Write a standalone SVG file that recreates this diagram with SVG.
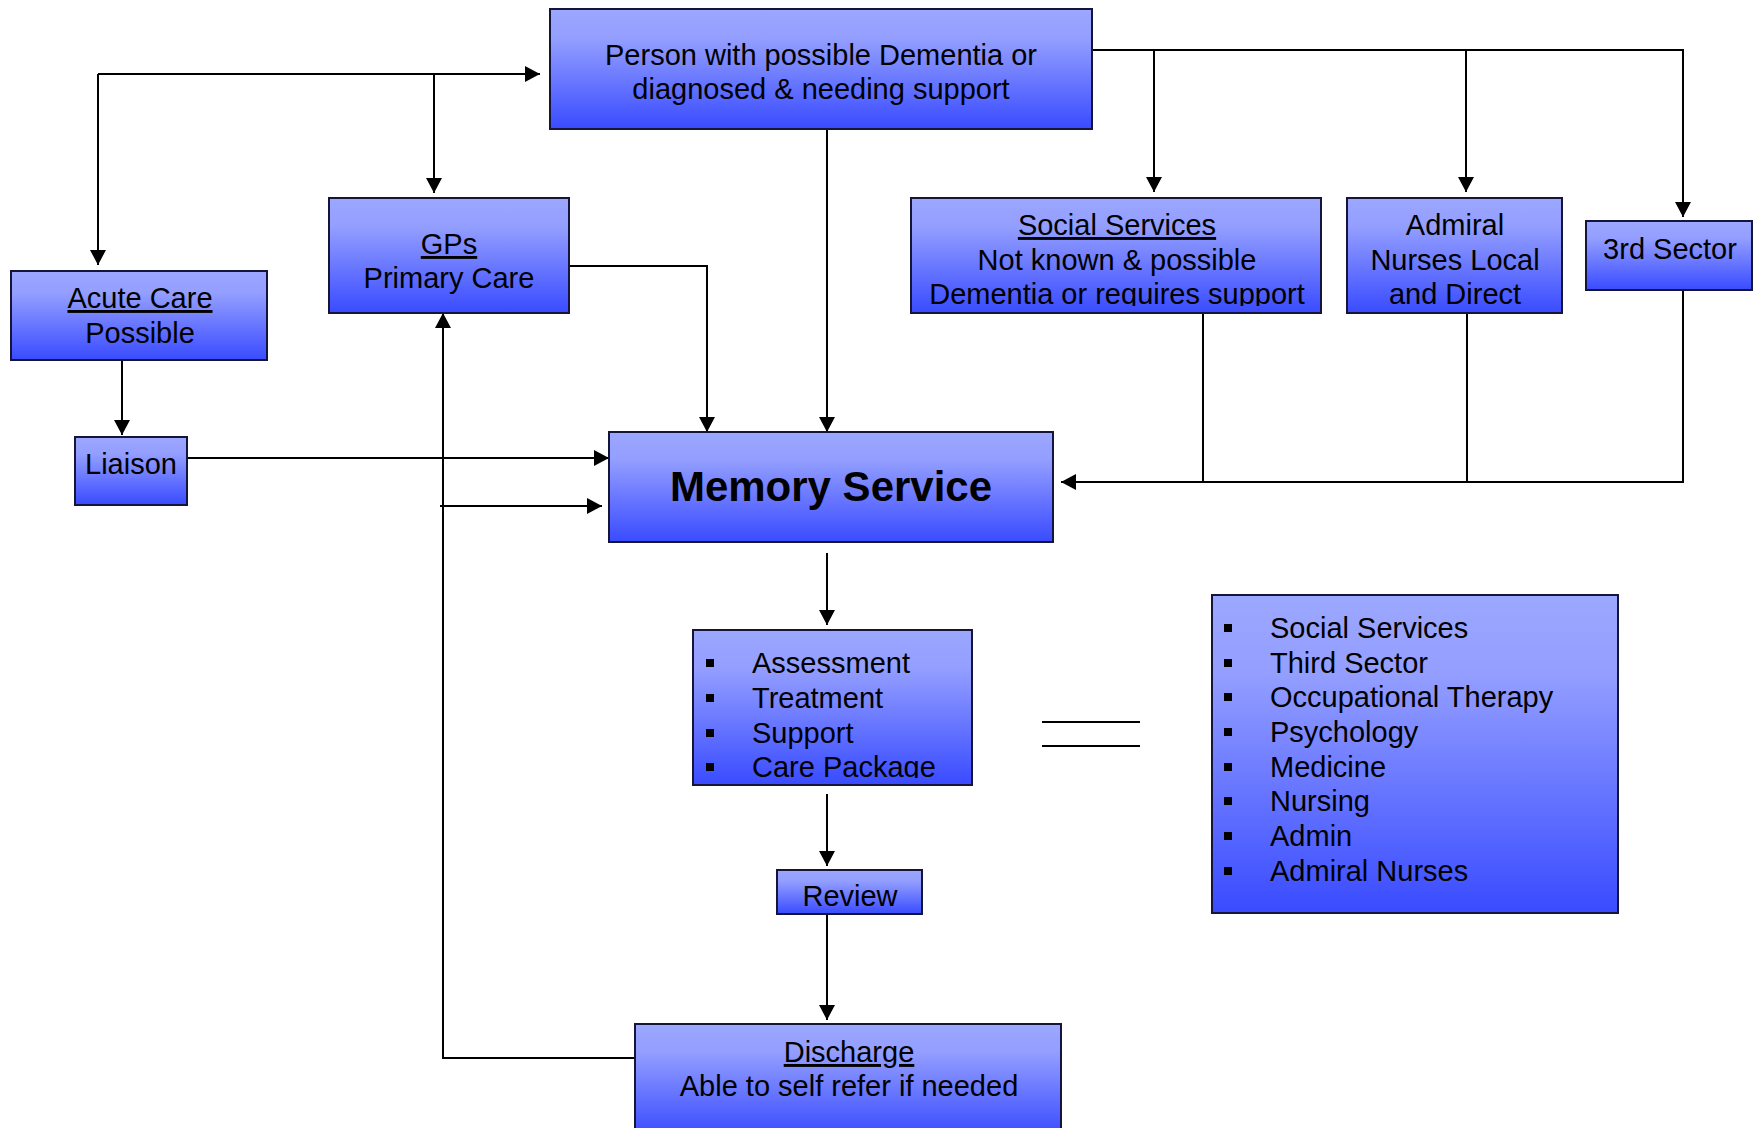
<svg xmlns="http://www.w3.org/2000/svg" width="1753" height="1128" viewBox="0 0 1753 1128">
<defs>
<linearGradient id="g" x1="0" y1="0" x2="0" y2="1">
<stop offset="0" stop-color="#9ca7ff"/>
<stop offset="0.25" stop-color="#939eff"/>
<stop offset="1" stop-color="#394bff"/>
</linearGradient>
<marker id="ah" markerUnits="userSpaceOnUse" markerWidth="16" markerHeight="16" refX="15" refY="8" orient="auto">
<path d="M0,0 L15,8 L0,16 z" fill="#000"/>
</marker>
<clipPath id="clipSoc"><rect x="911" y="198" width="410" height="108"/></clipPath>
<clipPath id="clipAss"><rect x="693" y="630" width="279" height="148"/></clipPath>
</defs>
<style>
.box{fill:url(#g);stroke:#15153a;stroke-width:2}
.t{font-family:"Liberation Sans",Arial,sans-serif;font-size:29px;fill:#000;text-anchor:middle}
.l{font-family:"Liberation Sans",Arial,sans-serif;font-size:29px;fill:#000}
.u{text-decoration:underline}
.b{font-weight:bold;font-size:42px}
.c{fill:none;stroke:#000;stroke-width:2}
.a{marker-end:url(#ah)}
.bul{fill:#000}
</style>
<rect width="1753" height="1128" fill="#fff"/>
<g id="connectors">
<path class="c" d="M1092,50 H1683 V217"/>
<path class="c a" d="M1683,50 V217"/>
<path class="c a" d="M1154,50 V192"/>
<path class="c a" d="M1466,50 V192"/>
<path class="c a" d="M98,74 H540"/>
<path class="c a" d="M98,74 V265"/>
<path class="c a" d="M434,74 V193"/>
<path class="c a" d="M827,129 V432"/>
<path class="c a" d="M569,266 H707 V432"/>
<path class="c a" d="M122,360 V435"/>
<path class="c a" d="M187,458 H609"/>
<path class="c a" d="M635,1058 H443 V313"/>
<path class="c a" d="M440,506 H602"/>
<path class="c" d="M1203,313 V482"/>
<path class="c" d="M1467,313 V482"/>
<path class="c a" d="M1683,290 V482 H1061"/>
<path class="c a" d="M827,553 V625"/>
<path class="c a" d="M827,794 V866"/>
<path class="c a" d="M827,914 V1020"/>
</g>
<g id="equals">
<path class="c" d="M1042,722 H1140 M1042,746 H1140"/>
</g>
<g id="person">
<rect class="box" x="550" y="9" width="542" height="120"/>
<text class="t" x="821" y="65">Person with possible Dementia or</text>
<text class="t" x="821" y="99">diagnosed &amp; needing support</text>
</g>
<g id="gps">
<rect class="box" x="329" y="198" width="240" height="115"/>
<text class="t u" x="449" y="254">GPs</text>
<text class="t" x="449" y="288">Primary Care</text>
</g>
<g id="acute">
<rect class="box" x="11" y="271" width="256" height="89"/>
<text class="t u" x="140" y="308">Acute Care</text>
<text class="t" x="140" y="343">Possible</text>
</g>
<g id="liaison">
<rect class="box" x="75" y="437" width="112" height="68"/>
<text class="t" x="131" y="474">Liaison</text>
</g>
<g id="social">
<rect class="box" x="911" y="198" width="410" height="115"/>
<g clip-path="url(#clipSoc)">
<text class="t u" x="1117" y="235">Social Services</text>
<text class="t" x="1117" y="270">Not known &amp; possible</text>
<text class="t" x="1117" y="304">Dementia or requires support</text>
</g>
</g>
<g id="admiral">
<rect class="box" x="1347" y="198" width="215" height="115"/>
<text class="t" x="1455" y="235">Admiral</text>
<text class="t" x="1455" y="270">Nurses Local</text>
<text class="t" x="1455" y="304">and Direct</text>
</g>
<g id="sector">
<rect class="box" x="1586" y="221" width="166" height="69"/>
<text class="t" x="1670" y="259">3rd Sector</text>
</g>
<g id="memory">
<rect class="box" x="609" y="432" width="444" height="110"/>
<text class="t b" x="831" y="501">Memory Service</text>
</g>
<g id="assessment">
<rect class="box" x="693" y="630" width="279" height="155"/>
<rect class="bul" x="706" y="659" width="8" height="8"/>
<rect class="bul" x="706" y="694" width="8" height="8"/>
<rect class="bul" x="706" y="729" width="8" height="8"/>
<rect class="bul" x="706" y="763" width="8" height="8"/>
<g clip-path="url(#clipAss)">
<text class="l" x="752" y="673">Assessment</text>
<text class="l" x="752" y="708">Treatment</text>
<text class="l" x="752" y="743">Support</text>
<text class="l" x="752" y="777">Care Package</text>
</g>
</g>
<g id="review">
<rect class="box" x="777" y="870" width="145" height="44"/>
<text class="t" x="850" y="906">Review</text>
</g>
<g id="discharge">
<rect class="box" x="635" y="1024" width="426" height="112"/>
<text class="t u" x="849" y="1062">Discharge</text>
<text class="t" x="849" y="1096">Able to self refer if needed</text>
</g>
<g id="team">
<rect class="box" x="1212" y="595" width="406" height="318"/>
<rect class="bul" x="1224" y="624" width="8" height="8"/>
<rect class="bul" x="1224" y="659" width="8" height="8"/>
<rect class="bul" x="1224" y="693" width="8" height="8"/>
<rect class="bul" x="1224" y="728" width="8" height="8"/>
<rect class="bul" x="1224" y="763" width="8" height="8"/>
<rect class="bul" x="1224" y="797" width="8" height="8"/>
<rect class="bul" x="1224" y="832" width="8" height="8"/>
<rect class="bul" x="1224" y="867" width="8" height="8"/>
<text class="l" x="1270" y="638">Social Services</text>
<text class="l" x="1270" y="673">Third Sector</text>
<text class="l" x="1270" y="707">Occupational Therapy</text>
<text class="l" x="1270" y="742">Psychology</text>
<text class="l" x="1270" y="777">Medicine</text>
<text class="l" x="1270" y="811">Nursing</text>
<text class="l" x="1270" y="846">Admin</text>
<text class="l" x="1270" y="881">Admiral Nurses</text>
</g>
</svg>
